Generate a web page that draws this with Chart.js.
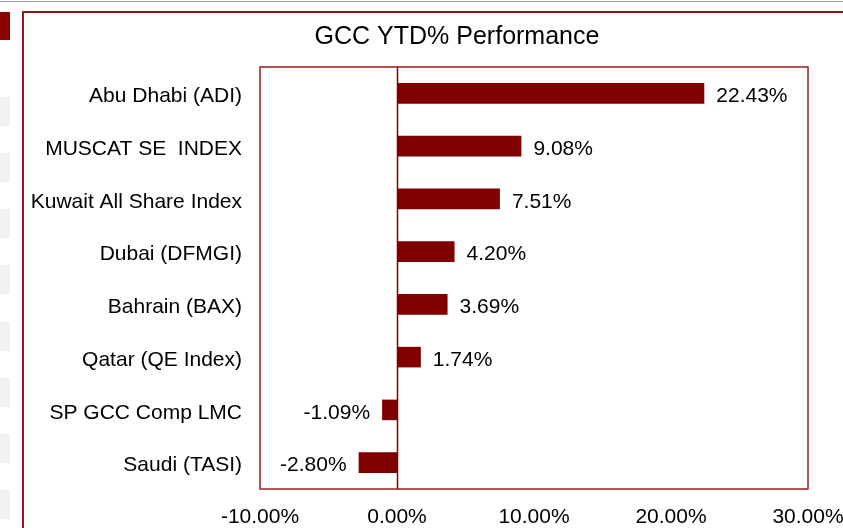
<!DOCTYPE html>
<html>
<head>
<meta charset="utf-8">
<script src="https://cdn.jsdelivr.net/npm/chart.js@4.4.1/dist/chart.umd.min.js"></script>
<style>
  html, body { margin: 0; padding: 0; background: #ffffff; }
  #wrap { width: 843px; height: 528px; position: relative; }
</style>
</head>
<body>
<div id="wrap"><canvas id="chart" width="843" height="528"></canvas></div>
<script>
// ─── DATA ─────────────────────────────────────────────────────
const categories = [
    'Abu Dhabi (ADI)',
    'MUSCAT SE  INDEX',
    'Kuwait All Share Index',
    'Dubai (DFMGI)',
    'Bahrain (BAX)',
    'Qatar (QE Index)',
    'SP GCC Comp LMC',
    'Saudi (TASI)'
];
const ytdValues = [22.43, 9.08, 7.51, 4.20, 3.69, 1.74, -1.09, -2.80];
const xTicks = [-10, 0, 10, 20, 30];

const MAROON = '#800000';
const FRAME = '#8b1a1a';
const FONT = '"Liberation Sans", Arial, sans-serif';

// ─── PLUGINS ─────────────────────────────────────────────────
const backdrop = {
    id: 'backdrop',
    beforeDraw(chart) {
        const ctx = chart.ctx;
        ctx.save();
        // thin grey rule at very top
        ctx.fillStyle = '#9a9a9a';
        ctx.fillRect(0, 1, chart.width, 1);
        // cropped neighbour bits on the left edge
        ctx.fillStyle = '#8b0000';
        ctx.fillRect(0, 12, 10, 28);
        ctx.fillStyle = '#f2f2f2';
        [97, 153, 209, 265, 322, 378, 434, 490].forEach(y => ctx.fillRect(0, y, 10, 29));
        // outer frame
        ctx.strokeStyle = FRAME;
        ctx.lineWidth = 2;
        ctx.strokeRect(23, 12, 900, 600);
        // title
        ctx.fillStyle = '#000';
        ctx.font = '25px ' + FONT;
        ctx.textAlign = 'center';
        ctx.textBaseline = 'middle';
        ctx.fillText('GCC YTD% Performance', 457, 37);
        ctx.restore();
    },
    afterDatasetsDraw(chart) {
        const ctx = chart.ctx;
        const a = chart.chartArea;
        const x0 = chart.scales.x.getPixelForValue(0);
        ctx.save();
        ctx.strokeStyle = MAROON;
        ctx.lineWidth = 1.5;
        ctx.beginPath();
        ctx.moveTo(Math.round(x0) + 0.5, a.top);
        ctx.lineTo(Math.round(x0) + 0.5, a.bottom);
        ctx.stroke();
        ctx.strokeStyle = '#9b1c1c';
        ctx.lineWidth = 1.5;
        ctx.strokeRect(a.left, a.top, a.right - a.left, a.bottom - a.top);
        // value labels
        ctx.fillStyle = '#000';
        ctx.font = '21px ' + FONT;
        ctx.textBaseline = 'middle';
        chart.getDatasetMeta(0).data.forEach((bar, i) => {
            const v = ytdValues[i];
            const txt = v.toFixed(2) + '%';
            if (v >= 0) {
                ctx.textAlign = 'left';
                ctx.fillText(txt, bar.x + 12, bar.y + 3);
            } else {
                ctx.textAlign = 'right';
                ctx.fillText(txt, bar.x - 12, bar.y + 3);
            }
        });
        ctx.restore();
    }
};

// ─── CHART ───────────────────────────────────────────────────
new Chart(document.getElementById('chart'), {
    type: 'bar',
    data: {
        labels: categories,
        datasets: [{
            data: ytdValues,
            backgroundColor: MAROON,
            borderWidth: 0,
            barPercentage: 0.39,
            categoryPercentage: 1
        }]
    },
    options: {
        indexAxis: 'y',
        responsive: false,
        animation: false,
        devicePixelRatio: 1,
        layout: { padding: { left: 0, top: 67, right: 35, bottom: 0 } },
        plugins: {
            legend: { display: false },
            title: { display: false },
            tooltip: { enabled: false }
        },
        scales: {
            x: {
                min: -10,
                max: 30,
                afterBuildTicks: axis => { axis.ticks = xTicks.map(v => ({ value: v })); },
                afterFit: axis => {
                    axis.height = 39;
                    axis.paddingLeft = 0;
                    axis.paddingRight = 0;
                },
                grid: { display: false, drawTicks: false },
                border: { display: false },
                ticks: {
                    color: '#000',
                    font: { family: FONT, size: 21 },
                    padding: 16,
                    maxRotation: 0,
                    callback: v => v.toFixed(2) + '%'
                }
            },
            y: {
                afterFit: axis => { axis.width = 260; },
                grid: { display: false, drawTicks: false },
                border: { display: false },
                ticks: {
                    color: '#000',
                    font: { family: FONT, size: 21 },
                    padding: 18,
                    labelOffset: 3
                }
            }
        }
    },
    plugins: [backdrop]
});
</script>
</body>
</html>
